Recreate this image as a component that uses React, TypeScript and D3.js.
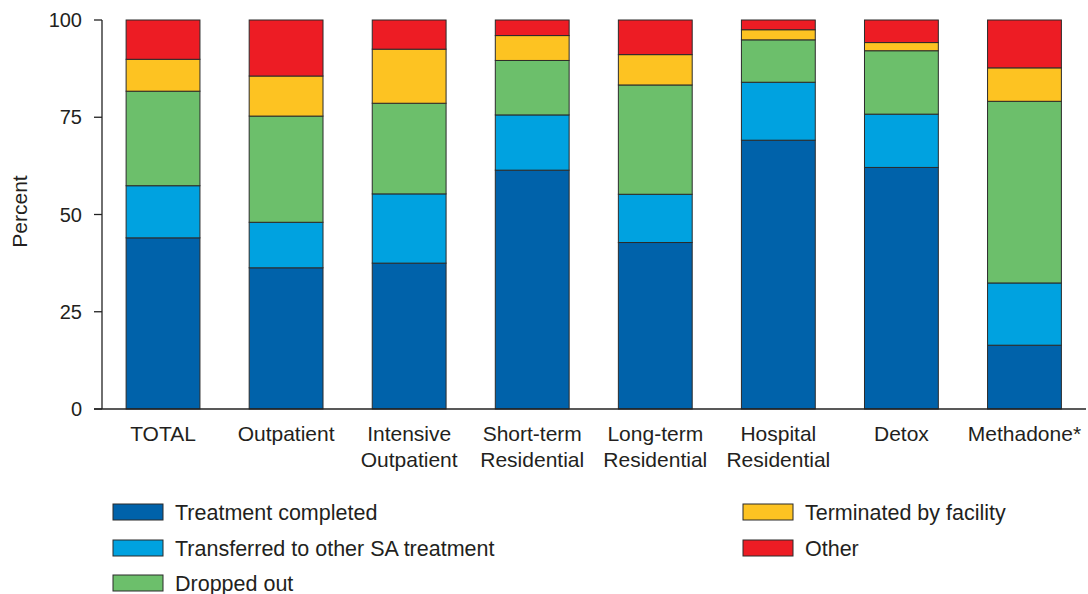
import React from "react";
import * as d3 from "d3";

const categories = ["TOTAL", "Outpatient", "Intensive Outpatient", "Short-term Residential", "Long-term Residential", "Hospital Residential", "Detox", "Methadone*"];
const categoryLines = [["TOTAL"], ["Outpatient"], ["Intensive", "Outpatient"], ["Short-term", "Residential"], ["Long-term", "Residential"], ["Hospital", "Residential"], ["Detox"], ["Methadone*"]];

const seriesNames = ["Treatment completed", "Transferred to other SA treatment", "Dropped out", "Terminated by facility", "Other"];
const completed = [44.0, 36.3, 37.5, 61.4, 42.8, 69.1, 62.1, 16.4];
const transferred = [13.4, 11.7, 17.8, 14.2, 12.4, 14.9, 13.7, 16.0];
const droppedOut = [24.3, 27.3, 23.3, 14.0, 28.1, 10.9, 16.3, 46.7];
const terminated = [8.2, 10.3, 13.9, 6.4, 7.8, 2.6, 2.1, 8.6];
const other = [10.1, 14.4, 7.5, 4.0, 8.9, 2.5, 5.8, 12.3];
const seriesColors = ["#0062AA", "#00A2E0", "#6CBF6B", "#FDC322", "#ED1C24"];
const yTicks = [0, 25, 50, 75, 100];

const W = 1088;
const H = 594;
const FONT = "'Liberation Sans', Arial, Helvetica, sans-serif";

export default function App() {
  const x = d3.scaleBand<string>().domain(categories).range([101.5, 1086]).paddingInner(0.4).paddingOuter(0.2);
  const y = d3.scaleLinear().domain([0, 100]).range([409, 20]);

  const table = categories.map((c, i) => ({
    cat: c,
    s0: completed[i],
    s1: transferred[i],
    s2: droppedOut[i],
    s3: terminated[i],
    s4: other[i],
  }));
  const keys = ["s0", "s1", "s2", "s3", "s4"];
  const stacked = d3.stack<any>().keys(keys)(table);

  const axisX0 = 102;
  const legendItems = [
    { i: 0, x: 113, y: 512 },
    { i: 1, x: 113, y: 548 },
    { i: 2, x: 113, y: 583 },
    { i: 3, x: 743, y: 512 },
    { i: 4, x: 743, y: 548 },
  ];

  return (
    <svg width={W} height={H} style={{ position: "absolute", left: 0, top: 0, display: "block", background: "#fff" }} fontFamily={FONT}>
      {stacked.map((layer, si) => (
        <g key={si} fill={seriesColors[si]}>
          {layer.map((d, ci) => (
            <rect
              key={ci}
              x={x(categories[ci])}
              y={y(d[1])}
              width={x.bandwidth()}
              height={y(d[0]) - y(d[1])}
              stroke="#2b2b2b"
              strokeWidth={1}
            />
          ))}
        </g>
      ))}

      <line x1={axisX0} x2={axisX0} y1={y(100)} y2={y(0)} stroke="#222" strokeWidth={1.3} />
      {yTicks.map((t) => (
        <g key={t}>
          <line x1={axisX0 - 8} x2={axisX0} y1={y(t)} y2={y(t)} stroke="#222" strokeWidth={1.3} />
          <text x={82} y={y(t)} dy="0.35em" textAnchor="end" fontSize={20} fill="#231f20">
            {t}
          </text>
        </g>
      ))}
      <line x1={axisX0 - 8} x2={1086} y1={y(0)} y2={y(0)} stroke="#222" strokeWidth={1.3} />

      <text transform={`translate(20, ${y(50) - 3}) rotate(-90)`} textAnchor="middle" dy="0.35em" fontSize={21} fill="#231f20">
        Percent
      </text>

      {categories.map((c, i) => (
        <text key={c} x={(x(c) as number) + x.bandwidth() / 2} y={441} textAnchor="middle" fontSize={21} fill="#231f20">
          {categoryLines[i].map((ln, li) => (
            <tspan key={li} x={(x(c) as number) + x.bandwidth() / 2} dy={li === 0 ? 0 : 26}>
              {ln}
            </tspan>
          ))}
        </text>
      ))}

      {legendItems.map((l) => (
        <g key={l.i}>
          <rect x={l.x} y={l.y - 8} width={50} height={16} fill={seriesColors[l.i]} stroke="#2b2b2b" strokeWidth={1} />
          <text x={l.x + 62} y={l.y} dy="0.35em" fontSize={21.5} fill="#231f20">
            {seriesNames[l.i]}
          </text>
        </g>
      ))}
    </svg>
  );
}
